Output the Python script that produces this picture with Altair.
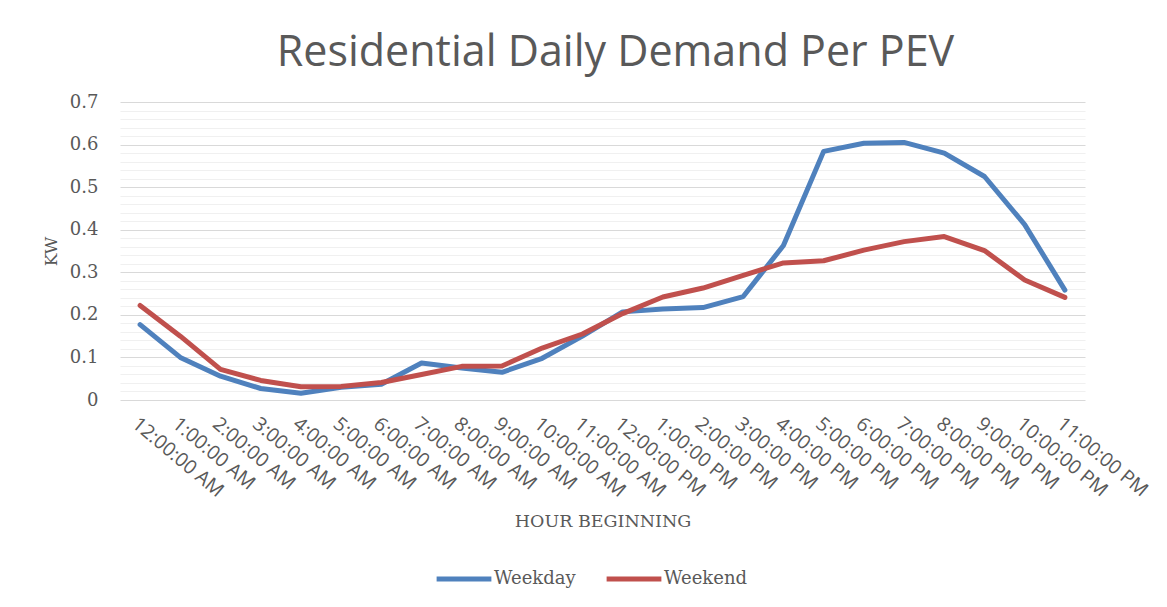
import altair as alt
import pandas as pd

hours = [
    "12:00:00 AM", "1:00:00 AM", "2:00:00 AM", "3:00:00 AM", "4:00:00 AM", "5:00:00 AM",
    "6:00:00 AM", "7:00:00 AM", "8:00:00 AM", "9:00:00 AM", "10:00:00 AM", "11:00:00 AM",
    "12:00:00 PM", "1:00:00 PM", "2:00:00 PM", "3:00:00 PM", "4:00:00 PM", "5:00:00 PM",
    "6:00:00 PM", "7:00:00 PM", "8:00:00 PM", "9:00:00 PM", "10:00:00 PM", "11:00:00 PM",
]
weekday = [0.177, 0.100, 0.056, 0.027, 0.016, 0.030, 0.037, 0.087, 0.075, 0.065, 0.098, 0.150,
           0.207, 0.214, 0.217, 0.243, 0.363, 0.584, 0.603, 0.605, 0.580, 0.525, 0.412, 0.258]
weekend = [0.222, 0.150, 0.072, 0.046, 0.031, 0.032, 0.041, 0.060, 0.079, 0.080, 0.122, 0.155,
           0.203, 0.242, 0.263, 0.293, 0.322, 0.327, 0.352, 0.372, 0.384, 0.351, 0.282, 0.241]
series = ["Weekday", "Weekend"]
colors = ["#4F81BD", "#C0504D"]
y_ticks = [round(i * 0.02, 2) for i in range(36)]

df = pd.DataFrame({
    "hour": hours * 2,
    "kw": weekday + weekend,
    "series": [series[0]] * len(hours) + [series[1]] * len(hours),
})

major = "abs(datum.value * 10 - round(datum.value * 10)) < 0.001"

chart = alt.Chart(df).mark_line(strokeWidth=5, strokeCap="round", strokeJoin="round").encode(
    x=alt.X("hour:N", sort=hours, title="HOUR BEGINNING",
            scale=alt.Scale(type="point", padding=0.5),
            axis=alt.Axis(labelAngle=40, labelAlign="left", labelBaseline="top",
                          labelFont="Open Sans", labelFontSize=19.5, labelColor="#595959",
                          labelPadding=14, ticks=False, domain=False, grid=False,
                          titleFont="DejaVu Serif", titleFontSize=17.5, titleFontWeight="normal",
                          titleColor="#595959", titlePadding=12, labelOverlap=False)),
    y=alt.Y("kw:Q", title="KW",
            scale=alt.Scale(domain=[0, 0.7], nice=False),
            axis=alt.Axis(values=y_ticks,
                          labelExpr=f"({major}) ? format(datum.value, '.1~f') : ''",
                          labelFont="DejaVu Serif", labelFontSize=18, labelColor="#595959",
                          labelPadding=22, ticks=False, domain=False,
                          gridColor={"condition": {"test": major, "value": "#d9d9d9"}, "value": "#f0f0f0"},
                          gridWidth=1.2,
                          titleFont="DejaVu Serif", titleFontSize=17, titleFontWeight="normal",
                          titleColor="#595959", titlePadding=9)),
    color=alt.Color("series:N", scale=alt.Scale(domain=series, range=colors),
                    legend=alt.Legend(title=None, orient="none", direction="horizontal",
                                      legendX=314, legendY=447,
                                      symbolType="stroke", symbolSize=3000, symbolStrokeWidth=5,
                                      labelFont="DejaVu Serif", labelFontSize=18, labelColor="#595959",
                                      columnPadding=20, labelOffset=0)),
).properties(
    width=965,
    height=298,
    autosize=alt.AutoSizeParams(type="none"),
    padding={"left": 112, "top": 94, "right": 70, "bottom": 200},
    title=alt.TitleParams("Residential Daily Demand Per PEV", font="Open Sans", fontSize=43,
                          fontWeight="normal", color="#595959", offset=18, dx=13),
).configure_view(stroke=None)

chart.save("out.html", embed_options={"renderer": "svg", "actions": False})
